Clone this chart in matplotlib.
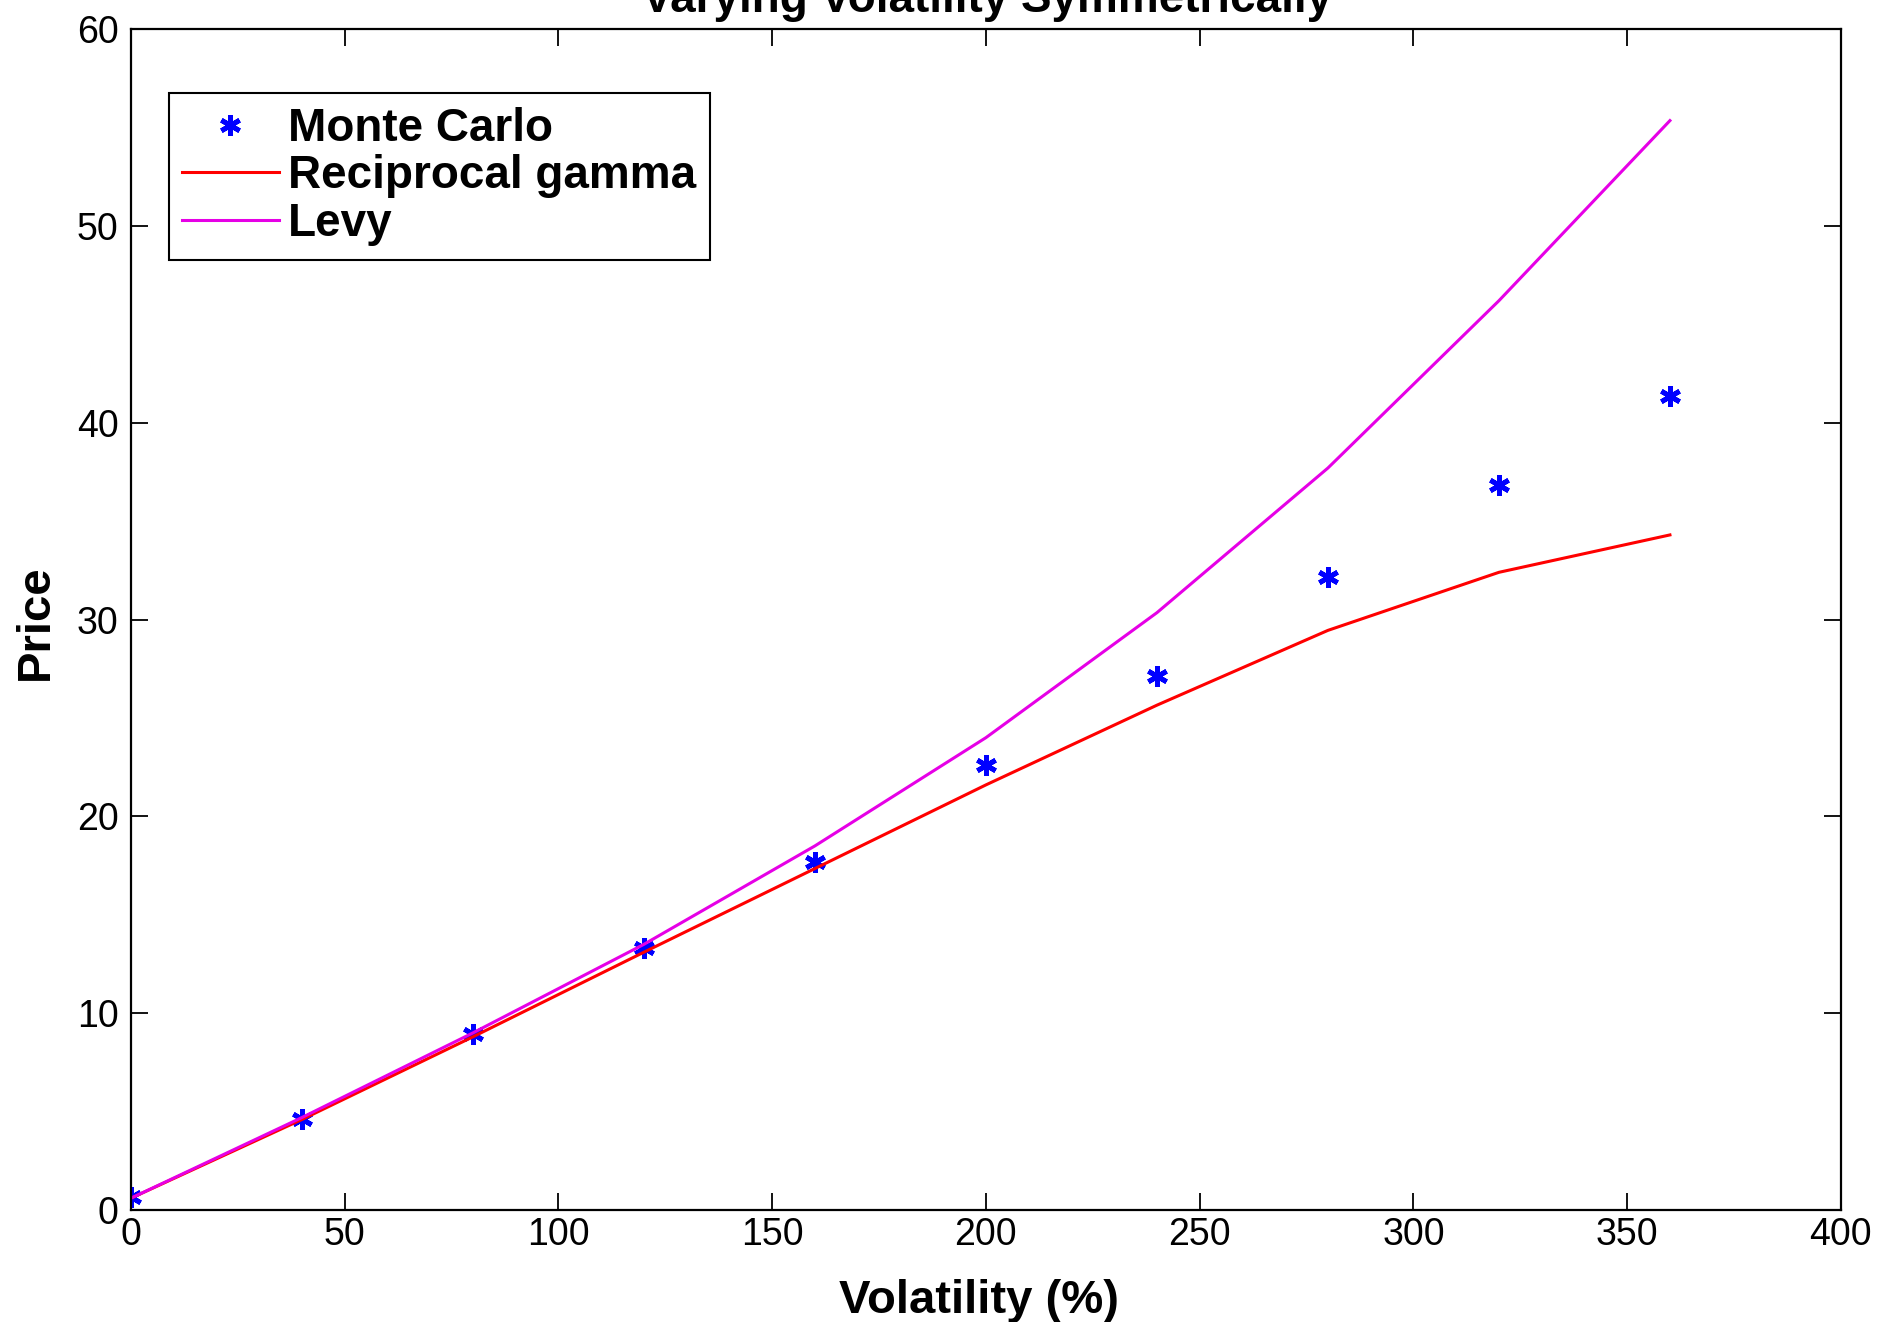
import numpy as np
import matplotlib
matplotlib.use("Agg")
import matplotlib.pyplot as plt

plt.rcParams['font.family'] = ['Liberation Sans', 'DejaVu Sans']

# volatility grid (%)
vol = [0, 40, 80, 120, 160, 200, 240, 280, 320, 360]

# prices
mc_price = [0.65, 4.6, 8.95, 13.3, 17.7, 22.6, 27.15, 32.15, 36.85, 41.35]
recip_gamma = [0.6, 4.6, 8.8, 13.1, 17.35, 21.6, 25.65, 29.45, 32.4, 34.3]
levy = [0.6, 4.7, 9.0, 13.5, 18.5, 24.0, 30.35, 37.7, 46.2, 55.35]

xticks = [0, 50, 100, 150, 200, 250, 300, 350, 400]
yticks = [0, 10, 20, 30, 40, 50, 60]

fig = plt.figure(figsize=(18.81, 13.22), dpi=100)
ax = fig.add_axes([0.0696, 0.0847, 0.9091, 0.8933])

ax.plot(vol, mc_price, linestyle='none', marker=(6, 2, 0), markersize=15,
        markeredgewidth=3.5, color='#0000ff', label='Monte Carlo')
ax.plot(vol, recip_gamma, color='#ff0000', linewidth=2.2, label='Reciprocal gamma')
ax.plot(vol, levy, color='#e600e6', linewidth=2.2, label='Levy')

ax.set_xlim(0, 400)
ax.set_ylim(0, 60)
ax.set_xticks(xticks)
ax.set_yticks(yticks)
ax.tick_params(direction='in', length=12, width=1.3, top=True, right=True,
               labelsize=27)
ax.tick_params(axis='x', pad=5)
ax.tick_params(axis='y', pad=9)
for s in ax.spines.values():
    s.set_linewidth(1.6)

leg = ax.legend(loc='upper left', bbox_to_anchor=(0.022, 0.946), borderaxespad=0,
                prop={'weight': 'bold', 'size': 33}, fancybox=False,
                edgecolor='black', framealpha=1, handlelength=2.1,
                handletextpad=0.2, labelspacing=0.08, borderpad=0.3)
leg.get_frame().set_linewidth(1.5)

fig.text(0.5205, 0.0159, 'Volatility (%)', ha='center', va='center',
         fontsize=34, fontweight='bold')
fig.text(36 / 1881, 0.5295, 'Price', ha='center', va='center', rotation=90,
         fontsize=34, fontweight='bold')
fig.text(0.5245, 1 - 12 / 1322, 'Varying Volatility Symmetrically',
         ha='center', va='baseline', fontsize=33, fontweight='bold')

fig.savefig('out.png', dpi=100, facecolor='white')
